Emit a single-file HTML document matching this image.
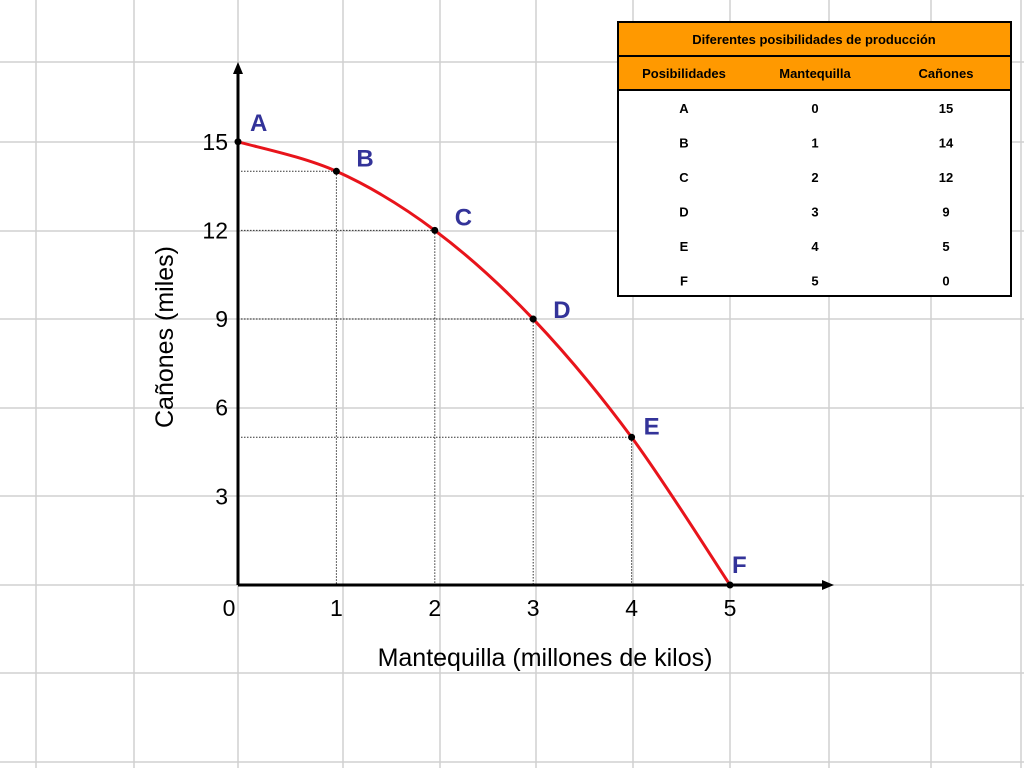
<!DOCTYPE html>
<html><head><meta charset="utf-8"><style>
body{margin:0;background:#fff;}
svg{display:block;font-family:"Liberation Sans",sans-serif;}
</style></head><body>
<svg id="c" width="1024" height="768">
<g id="grid"></g>
<g id="guides"></g>
<g id="axes"></g>
<g id="curve"></g>
<g id="table"></g>
</svg>
<script>
const labels=["A","B","C","D","E","F"];
const butter=[0,1,2,3,4,5];
const cannons=[15,14,12,9,5,0];
const xTicks=[0,1,2,3,4,5];
const yTicks=[3,6,9,12,15];
const NS="http://www.w3.org/2000/svg";
const X0=238,XS=98.4,Y0=585,YS=29.55;
const xs=v=>X0+v*XS, ys=v=>Y0-v*YS;
function mk(p,t,a){const e=document.createElementNS(NS,t);for(const k in a)e.setAttribute(k,a[k]);p.appendChild(e);return e;}
const grid=document.getElementById('grid');
[36,134,238,343,440,536,633,730,829,931,1021].forEach(x=>{const l=mk(grid,'line',{x1:x,y1:0,x2:x,y2:768,stroke:'#d0d0d0','stroke-width':1.5});

});
[62,142,231,319,408,496,585,673,762].forEach(y=>{const l=mk(grid,'line',{x1:0,y1:y,x2:1024,y2:y,stroke:'#d0d0d0','stroke-width':1.5});

});
const g=document.getElementById('guides');
for(let i=1;i<butter.length-1;i++){
 const px=xs(butter[i]),py=ys(cannons[i]);
 const a=mk(g,'line',{x1:X0,y1:py,x2:px,y2:py,stroke:'#333','stroke-width':1,'stroke-dasharray':'1.5,1.5'});
 
 
 const b=mk(g,'line',{x1:px,y1:py,x2:px,y2:Y0,stroke:'#333','stroke-width':1,'stroke-dasharray':'1.5,1.5'});
 
 
}
const ax=document.getElementById('axes');
mk(ax,'line',{x1:X0,y1:Y0,x2:826,y2:Y0,stroke:'#000','stroke-width':3});
mk(ax,'polygon',{points:'834,585 822,580 822,590',fill:'#000'});
mk(ax,'line',{x1:X0,y1:Y0,x2:X0,y2:70,stroke:'#000','stroke-width':3});
mk(ax,'polygon',{points:'238,62 233,74 243,74',fill:'#000'});
xTicks.forEach(v=>{const t=mk(ax,'text',{x:v===0?229:xs(v),y:616,'font-size':23,'text-anchor':'middle'});t.textContent=v;

});
yTicks.forEach(v=>{const t=mk(ax,'text',{x:228,y:ys(v)+8,'font-size':23,'text-anchor':'end'});t.textContent=v;

});
const xt=mk(ax,'text',{x:545,y:666,'font-size':25,'text-anchor':'middle'});xt.textContent='Mantequilla (millones de kilos)';


const yt=mk(ax,'text',{x:0,y:0,'font-size':25,'text-anchor':'middle',transform:'translate(173,337) rotate(-90)'});yt.textContent='Cañones (miles)';


const cv=document.getElementById('curve');
const pts=butter.map((b,i)=>[xs(b),ys(cannons[i])]);
let d='M'+pts[0];
for(let i=0;i<pts.length-1;i++){const p0=pts[Math.max(0,i-1)],p1=pts[i],p2=pts[i+1],p3=pts[Math.min(pts.length-1,i+2)];
 d+=' C'+(p1[0]+(p2[0]-p0[0])/6)+','+(p1[1]+(p2[1]-p0[1])/6)+' '+(p2[0]-(p3[0]-p1[0])/6)+','+(p2[1]-(p3[1]-p1[1])/6)+' '+p2[0]+','+p2[1];}
const path=mk(cv,'path',{d:d,fill:'none',stroke:'#e8141b','stroke-width':3});


const off=[[12,-11],[20,-5],[20,-5],[20,-1],[12,-3],[2,-12]];
pts.forEach((p,i)=>{const c=mk(cv,'circle',{cx:p[0],cy:p[1],r:3.5,fill:'#000'});


const t=mk(cv,'text',{x:p[0]+off[i][0],y:p[1]+off[i][1],'font-size':24,'font-weight':'bold',fill:'#333399'});t.textContent=labels[i];

});
const tb=document.getElementById('table');
mk(tb,'rect',{x:618,y:22,width:393,height:274,fill:'#fff',stroke:'#000','stroke-width':2});
mk(tb,'rect',{x:618,y:22,width:393,height:68,fill:'#ff9900',stroke:'#000','stroke-width':2});
mk(tb,'line',{x1:618,y1:56,x2:1011,y2:56,stroke:'#000','stroke-width':2});
[[608,61,90],[645,92,86],[530,79,92],[500,59,58],[460,53,100]];
const tt=mk(tb,'text',{x:814,y:44,'font-size':13,'font-weight':'bold','text-anchor':'middle'});tt.textContent='Diferentes posibilidades de producción';


const cols=[684,815,946];
['Posibilidades','Mantequilla','Cañones'].forEach((h,j)=>{const t=mk(tb,'text',{x:cols[j],y:78,'font-size':13,'font-weight':'bold','text-anchor':'middle'});t.textContent=h;

});
labels.forEach((l,i)=>{[l,butter[i],cannons[i]].forEach((v,j)=>{const t=mk(tb,'text',{x:cols[j],y:113+i*34.5,'font-size':13,'font-weight':'bold','text-anchor':'middle'});t.textContent=v;

});});
</script>
</body></html>
